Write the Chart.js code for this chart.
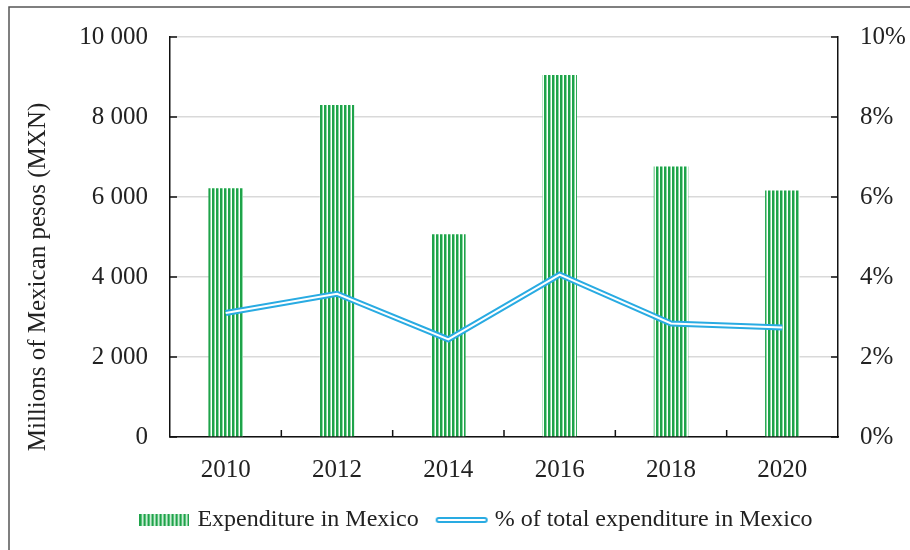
<!DOCTYPE html>
<html>
<head>
<meta charset="utf-8">
<script src="https://cdn.jsdelivr.net/npm/chart.js@4.4.1/dist/chart.umd.min.js"></script>
<style>
  html, body { margin: 0; padding: 0; background: #fff; }
  #wrap { width: 910px; height: 550px; position: relative; }
</style>
</head>
<body>
<div id="wrap"><canvas id="chart" width="910" height="550"></canvas></div>
<script>
// Data
const years = ['2010', '2012', '2014', '2016', '2018', '2020'];
const expenditure = [6220, 8300, 5070, 9050, 6760, 6160];   // millions MXN
const sharePct = [3.1, 3.58, 2.44, 4.06, 2.84, 2.74];       // % of total
const yTitle = 'Millions of Mexican pesos (MXN)';

const serif = '"Liberation Serif", "DejaVu Serif", serif';
const ink = '#222';

// vertical stripe fill for the bars
const makeStripes = () => {
  const c = document.createElement('canvas');
  c.width = 4; c.height = 4;
  const g = c.getContext('2d');
  g.fillStyle = '#fff';
  g.fillRect(0, 0, 4, 4);
  g.fillStyle = '#1fa34a';
  g.fillRect(0, 0, 2, 4);
  g.fillStyle = '#8ad9a3';
  g.fillRect(2, 0, 1, 4);
  return g.createPattern(c, 'repeat');
};
const stripes = makeStripes();

// legend symbols
const barSymbol = (() => {
  const c = document.createElement('canvas');
  c.width = 50; c.height = 12;
  const g = c.getContext('2d');
  g.fillStyle = stripes;
  g.fillRect(0, 0, 50, 12);
  return c;
})();
const lineSymbol = (() => {
  const c = document.createElement('canvas');
  c.width = 54; c.height = 10;
  const g = c.getContext('2d');
  g.lineCap = 'round';
  g.strokeStyle = '#29abe2'; g.lineWidth = 6;
  g.beginPath(); g.moveTo(4, 5); g.lineTo(50, 5); g.stroke();
  g.strokeStyle = '#fff'; g.lineWidth = 2;
  g.beginPath(); g.moveTo(4, 5); g.lineTo(50, 5); g.stroke();
  return c;
})();

// outer frame, y title, inward tick marks
const extras = {
  id: 'extras',
  beforeDraw(chart) {
    const ctx = chart.ctx;
    ctx.save();
    ctx.strokeStyle = '#555';
    ctx.lineWidth = 1.5;
    ctx.beginPath();
    ctx.moveTo(9, 550); ctx.lineTo(9, 7); ctx.lineTo(910, 7);
    ctx.stroke();
    ctx.translate(38, 277);
    ctx.rotate(-Math.PI / 2);
    ctx.fillStyle = ink;
    ctx.font = '25px ' + serif;
    ctx.textAlign = 'center';
    ctx.textBaseline = 'middle';
    ctx.fillText(yTitle, 0, 0);
    ctx.restore();
  },
  afterDatasetsDraw(chart) {
    const { ctx, chartArea: a, scales } = chart;
    ctx.save();
    ctx.strokeStyle = '#111';
    ctx.lineWidth = 1.5;
    ctx.beginPath();
    scales.y.ticks.forEach(t => {
      const y = scales.y.getPixelForValue(t.value);
      ctx.moveTo(a.left, y); ctx.lineTo(a.left + 7, y);
    });
    scales.y1.ticks.forEach(t => {
      const y = scales.y1.getPixelForValue(t.value);
      ctx.moveTo(a.right, y); ctx.lineTo(a.right - 7, y);
    });
    for (let i = 1; i < years.length; i++) {
      const x = (scales.x.getPixelForValue(i - 1) + scales.x.getPixelForValue(i)) / 2;
      ctx.moveTo(x, a.bottom); ctx.lineTo(x, a.bottom - 7);
    }
    ctx.stroke();
    ctx.restore();
  }
};

new Chart(document.getElementById('chart'), {
  data: {
    labels: years,
    datasets: [
      {
        type: 'line',
        label: '% of total expenditure in Mexico',
        data: sharePct,
        yAxisID: 'y1',
        borderColor: '#fff',
        borderWidth: 2,
        pointRadius: 0,
        tension: 0,
        order: 0,
      },
      {
        type: 'line',
        label: '% of total expenditure in Mexico',
        data: sharePct,
        yAxisID: 'y1',
        borderColor: '#29abe2',
        borderWidth: 6,
        pointRadius: 0,
        tension: 0,
        order: 1,
      },
      {
        type: 'bar',
        label: 'Expenditure in Mexico',
        data: expenditure,
        yAxisID: 'y',
        backgroundColor: stripes,
        borderWidth: 0,
        categoryPercentage: 1,
        barPercentage: 0.31,
        order: 2,
      },
    ],
  },
  options: {
    responsive: false,
    animation: false,
    devicePixelRatio: 1,
    layout: { padding: { top: 22, right: 0, bottom: 8, left: 46 } },
    plugins: {
      tooltip: { enabled: false },
      legend: {
        position: 'bottom',
        labels: {
          usePointStyle: true,
          pointStyleWidth: 42,
          boxHeight: 12,
          padding: 22,
          color: ink,
          font: { family: serif, size: 24 },
          generateLabels: () => [
            { text: 'Expenditure in Mexico', pointStyle: barSymbol, fontColor: ink, lineWidth: 0, strokeStyle: 'transparent', fillStyle: 'transparent', datasetIndex: 2 },
            { text: '% of total expenditure in Mexico', pointStyle: lineSymbol, fontColor: ink, lineWidth: 0, strokeStyle: 'transparent', fillStyle: 'transparent', datasetIndex: 1 },
          ],
        },
      },
    },
    scales: {
      x: {
        offset: true,
        grid: { display: false, drawTicks: false },
        border: { display: true, color: '#111', width: 1.5 },
        ticks: { color: ink, padding: 18, font: { family: serif, size: 25 } },
        afterFit: s => { s.height = 49; },
      },
      y: {
        position: 'left',
        min: 0, max: 10000,
        ticks: {
          stepSize: 2000,
          padding: 22,
          color: ink,
          font: { family: serif, size: 25 },
          callback: v => v >= 1000 ? Math.floor(v / 1000) + ' ' + String(v % 1000).padStart(3, '0') : String(v),
        },
        grid: { color: '#d9d9d9', lineWidth: 1.5, drawTicks: false },
        border: { display: true, color: '#111', width: 1.5 },
        afterFit: s => { s.width = 124; },
      },
      y1: {
        position: 'right',
        min: 0, max: 10,
        ticks: {
          stepSize: 2,
          padding: 22,
          color: ink,
          font: { family: serif, size: 25 },
          callback: v => v + '%',
        },
        grid: { display: false, drawTicks: false },
        border: { display: true, color: '#111', width: 1.5 },
        afterFit: s => { s.width = 72; },
      },
    },
  },
  plugins: [extras],
});
</script>
</body>
</html>
